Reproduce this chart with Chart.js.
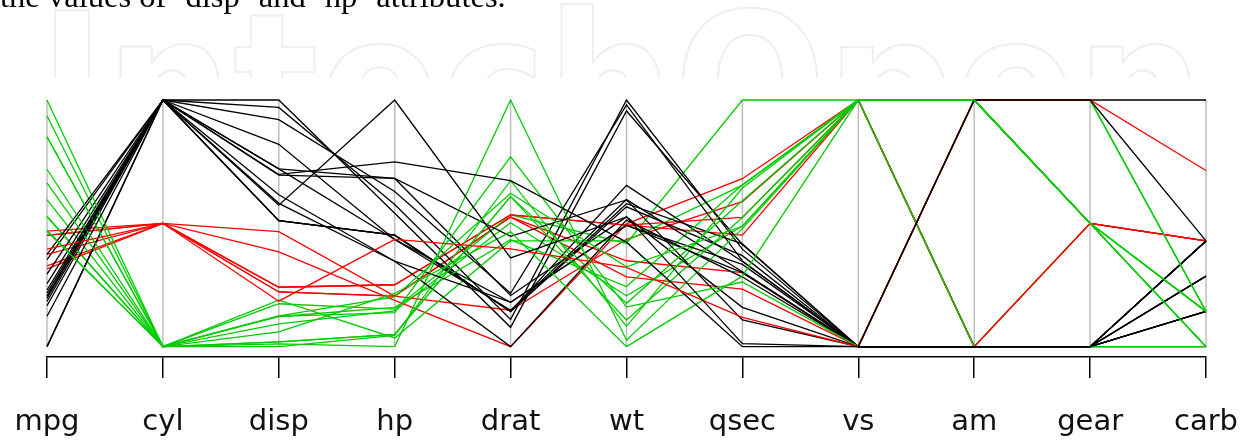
<!DOCTYPE html>
<html>
<head>
<meta charset="utf-8">
<script src="https://cdn.jsdelivr.net/npm/chart.js@4"></script>
<style>
  body { margin: 0; background: #fff; }
</style>
</head>
<body>
<canvas id="myChart" width="1247" height="440"></canvas>
<script>
// mtcars, one array per attribute (row order = drawing order)
var caption = "the values of \u2018disp\u2019 and \u2018hp\u2019 attributes.";
var axes = ['mpg', 'cyl', 'disp', 'hp', 'drat', 'wt', 'qsec', 'vs', 'am', 'gear', 'carb'];
var cars = ['Mazda RX4', 'Mazda RX4 Wag', 'Datsun 710', 'Hornet 4 Drive', 'Hornet Sportabout', 'Valiant',
  'Duster 360', 'Merc 240D', 'Merc 230', 'Merc 280', 'Merc 280C', 'Merc 450SE', 'Merc 450SL', 'Merc 450SLC',
  'Cadillac Fleetwood', 'Lincoln Continental', 'Chrysler Imperial', 'Fiat 128', 'Honda Civic', 'Toyota Corolla',
  'Toyota Corona', 'Dodge Challenger', 'AMC Javelin', 'Camaro Z28', 'Pontiac Firebird', 'Fiat X1-9',
  'Porsche 914-2', 'Lotus Europa', 'Ford Pantera L', 'Ferrari Dino', 'Maserati Bora', 'Volvo 142E'];
var mpg  = [21.0, 21.0, 22.8, 21.4, 18.7, 18.1, 14.3, 24.4, 22.8, 19.2, 17.8, 16.4, 17.3, 15.2, 10.4, 10.4, 14.7, 32.4, 30.4, 33.9, 21.5, 15.5, 15.2, 13.3, 19.2, 27.3, 26.0, 30.4, 15.8, 19.7, 15.0, 21.4];
var cyl  = [6, 6, 4, 6, 8, 6, 8, 4, 4, 6, 6, 8, 8, 8, 8, 8, 8, 4, 4, 4, 4, 8, 8, 8, 8, 4, 4, 4, 8, 6, 8, 4];
var disp = [160, 160, 108, 258, 360, 225, 360, 146.7, 140.8, 167.6, 167.6, 275.8, 275.8, 275.8, 472, 460, 440, 78.7, 75.7, 71.1, 120.1, 318, 304, 350, 400, 79, 120.3, 95.1, 351, 145, 301, 121];
var hp   = [110, 110, 93, 110, 175, 105, 245, 62, 95, 123, 123, 180, 180, 180, 205, 215, 230, 66, 52, 65, 97, 150, 150, 245, 175, 66, 91, 113, 264, 175, 335, 109];
var drat = [3.90, 3.90, 3.85, 3.08, 3.15, 2.76, 3.21, 3.69, 3.92, 3.92, 3.92, 3.07, 3.07, 3.07, 2.93, 3.00, 3.23, 4.08, 4.93, 4.22, 3.70, 2.76, 3.15, 3.73, 3.08, 4.08, 4.43, 3.77, 4.22, 3.62, 3.54, 4.11];
var wt   = [2.620, 2.875, 2.320, 3.215, 3.440, 3.460, 3.570, 3.190, 3.150, 3.440, 3.440, 4.070, 3.730, 3.780, 5.250, 5.424, 5.345, 2.200, 1.615, 1.835, 2.465, 3.520, 3.435, 3.840, 3.845, 1.935, 2.140, 1.513, 3.170, 2.770, 3.570, 2.780];
var qsec = [16.46, 17.02, 18.61, 19.44, 17.02, 20.22, 15.84, 20.00, 22.90, 18.30, 18.90, 17.40, 17.60, 18.00, 17.98, 17.82, 17.42, 19.47, 18.52, 19.90, 20.01, 16.87, 17.30, 15.41, 17.05, 18.90, 16.70, 16.90, 14.50, 15.50, 14.60, 18.60];
var vs   = [0, 0, 1, 1, 0, 1, 0, 1, 1, 1, 1, 0, 0, 0, 0, 0, 0, 1, 1, 1, 1, 0, 0, 0, 0, 1, 0, 1, 0, 0, 0, 1];
var am   = [1, 1, 1, 0, 0, 0, 0, 0, 0, 0, 0, 0, 0, 0, 0, 0, 0, 1, 1, 1, 0, 0, 0, 0, 0, 1, 1, 1, 1, 1, 1, 1];
var gear = [4, 4, 4, 3, 3, 3, 3, 4, 4, 4, 4, 3, 3, 3, 3, 3, 3, 4, 4, 4, 3, 3, 3, 3, 3, 4, 5, 5, 5, 5, 5, 4];
var carb = [4, 4, 1, 1, 2, 1, 4, 2, 2, 4, 4, 3, 3, 3, 4, 4, 4, 1, 2, 1, 1, 2, 2, 4, 2, 1, 2, 2, 4, 6, 8, 2];
var cylColors = { 4: '#00cd00', 6: '#ff0000', 8: '#000000' };

var columns = [mpg, cyl, disp, hp, drat, wt, qsec, vs, am, gear, carb];

// each attribute rescaled to its own min..max, like parcoord does
function rescale(col, i) {
    var lo = Math.min.apply(null, col), hi = Math.max.apply(null, col);
    return (col[i] - lo) / (hi - lo);
}

var datasets = cars.map(function(name, i) {
    return {
        label: name,
        data: columns.map(function(col) { return rescale(col, i); }),
        borderColor: cylColors[cyl[i]],
        borderWidth: 1.3,
        pointRadius: 0,
        tension: 0,
        fill: false,
        clip: false,
        order: cars.length - i   // first row drawn first, like R
    };
});

// faint watermark + the cut-off line of page text above the figure
var pageDecor = {
    id: 'pageDecor',
    beforeDraw: function(chart) {
        var c = chart.ctx;
        c.save();
        c.beginPath();
        c.rect(0, 0, chart.width, 78);
        c.clip();
        c.font = 'bold 200px "DejaVu Sans"';
        var m = c.measureText('IntechOpen');
        var w = m.actualBoundingBoxLeft + m.actualBoundingBoxRight;
        var sx = 1135 / w;
        c.translate(55 + m.actualBoundingBoxLeft * sx, 156);
        c.scale(sx, 1);
        c.lineWidth = 2 / sx;
        c.strokeStyle = '#efefef';
        c.lineJoin = 'round';
        c.strokeText('IntechOpen', 0, 0);
        c.restore();
    },
    afterDraw: function(chart) {
        var c = chart.ctx;
        c.save();
        // size the text so it spans the same width as in the page scan
        c.font = '100px "Liberation Serif"';
        var size = 100 * 506 / c.measureText(caption).width;
        c.font = size.toFixed(1) + 'px "Liberation Serif"';
        c.fillStyle = '#000';
        c.textBaseline = 'alphabetic';
        c.fillText(caption, 0, 7);
        c.restore();
    }
};

// gray vertical line for every attribute
var axisLines = {
    id: 'axisLines',
    beforeDatasetsDraw: function(chart) {
        var x = chart.scales.x, y = chart.scales.y, c = chart.ctx;
        c.save();
        c.strokeStyle = '#bebebe';
        c.lineWidth = 1.5;
        for (var i = 0; i < axes.length; i++) {
            var px = x.getPixelForTick(i);
            c.beginPath();
            c.moveTo(px, y.getPixelForValue(0));
            c.lineTo(px, y.getPixelForValue(1));
            c.stroke();
        }
        c.restore();
    }
};

var ctx = document.getElementById('myChart');
var chart = new Chart(ctx, {
    type: 'line',
    data: {
        labels: axes,
        datasets: datasets
    },
    options: {
        responsive: false,
        animation: false,
        events: [],
        layout: { padding: { left: 47, right: 41, top: 100, bottom: 0 } },
        plugins: {
            legend: { display: false },
            tooltip: { enabled: false }
        },
        scales: {
            x: {
                type: 'category',
                offset: false,
                border: { display: true, color: '#000', width: 1.5 },
                grid: { display: true, drawOnChartArea: false, drawTicks: true, tickLength: 21, color: '#000', lineWidth: 1.5 },
                ticks: {
                    color: '#111',
                    font: { family: '"DejaVu Sans"', size: 29 },
                    padding: 27,
                    maxRotation: 0,
                    autoSkip: false
                },
                afterFit: function(scale) {
                    // fixed axis band under the plot, no extra side padding
                    scale.height = 83;
                    scale.paddingLeft = 0;
                    scale.paddingRight = 0;
                }
            },
            y: {
                display: false,
                min: -0.042,
                max: 1
            }
        }
    },
    plugins: [pageDecor, axisLines]
});
</script>
</body>
</html>
